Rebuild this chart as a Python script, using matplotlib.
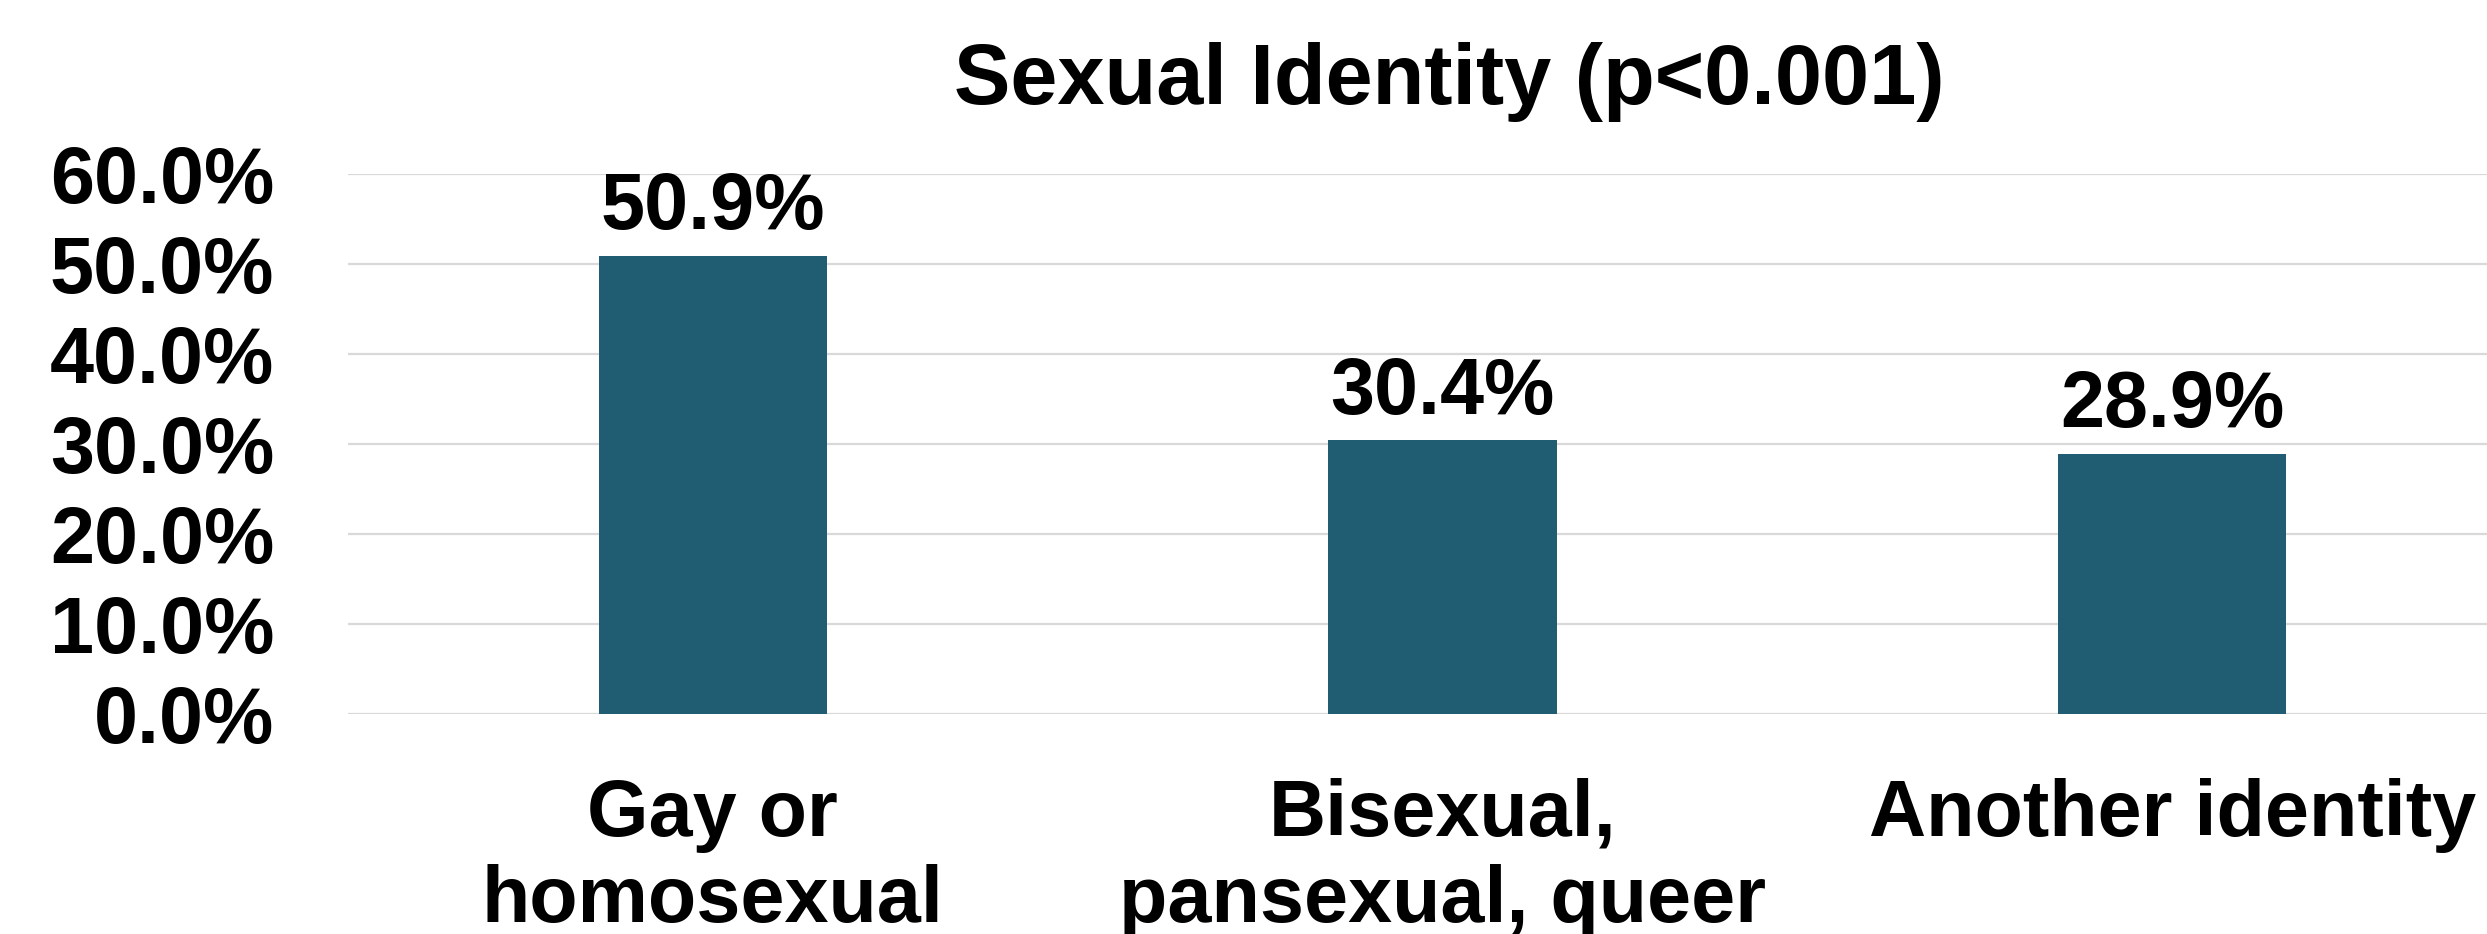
import matplotlib
matplotlib.use("Agg")
import matplotlib.pyplot as plt
import numpy as np

categories = ["Gay or\nhomosexual", "Bisexual,\npansexual, queer", "Another identity"]
values = [0.509, 0.304, 0.289]
yticks = [0.0, 0.1, 0.2, 0.3, 0.4, 0.5, 0.6]

plt.rcParams['font.family'] = ['Liberation Sans', 'DejaVu Sans']
plt.rcParams['font.weight'] = 'bold'

fig = plt.figure(figsize=(24.87, 9.34), dpi=100)
# plot area runs past the right edge, like the original
ax = fig.add_axes([348 / 2487, 1 - 714 / 934, (2537 - 348) / 2487, 540 / 934])

x = np.arange(len(categories))
bars = ax.bar(x, values, width=0.3125, color='#215D72', zorder=3)

ax.set_xlim(-0.5, 2.5)
ax.set_ylim(0, 0.6)
ax.set_yticks(yticks)
ax.set_yticklabels(['{:.1f}%'.format(v * 100) for v in yticks], fontsize=57, fontweight='bold')
ax.set_xticks(x)
ax.set_xticklabels(categories, fontsize=57, fontweight='bold', linespacing=1.2)
ax.tick_params(axis='y', length=0, pad=53)
ax.tick_params(axis='x', length=0, pad=46)
ax.grid(axis='y', color='#D9D9D9', linewidth=1.6, zorder=0)
for s in ax.spines.values():
    s.set_visible(False)

for rect, v in zip(bars, values):
    ax.annotate('{:.1f}%'.format(v * 100),
                xy=(rect.get_x() + rect.get_width() / 2, rect.get_height()),
                xytext=(0, 7), textcoords="offset points",
                ha='center', va='bottom', fontsize=57, fontweight='bold')

fig.text(0.5826, 1 - 104 / 934, 'Sexual Identity (p<0.001)', ha='center', va='baseline',
         fontsize=61, fontweight='bold')

fig.savefig('out.png', dpi=100)
